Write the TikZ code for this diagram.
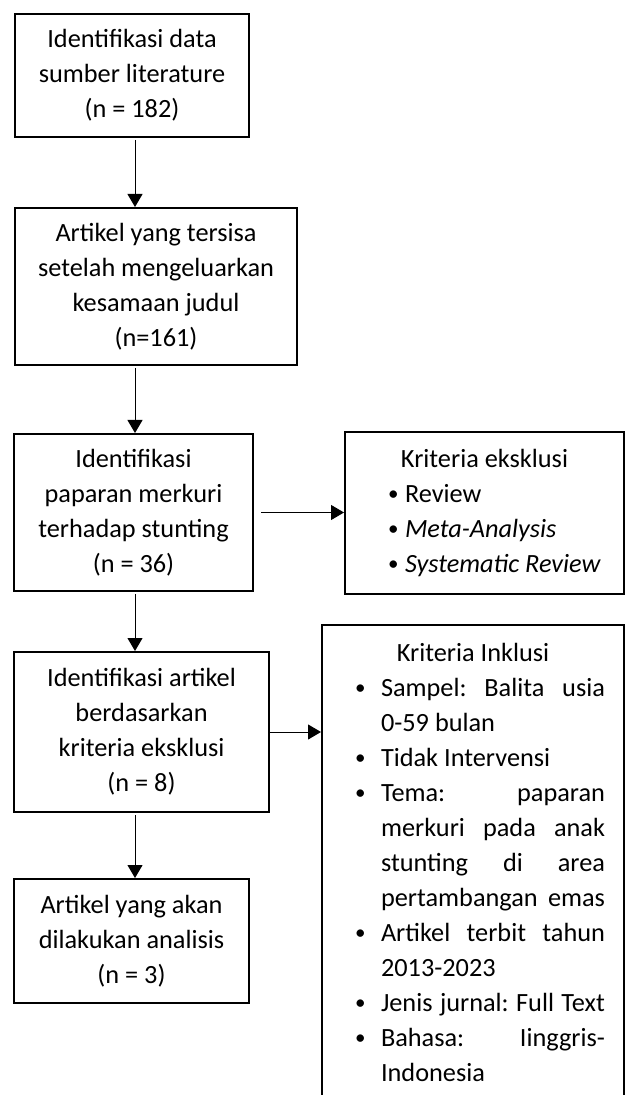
\documentclass[tikz,border=0pt]{standalone}
\usepackage{fontspec}
\setmainfont{Carlito}
\usetikzlibrary{arrows.meta}
\tikzset{
  box/.style={draw, line width=1pt, inner sep=0pt, align=center,
    execute at begin node={\frenchspacing\spaceskip=0pt\xspaceskip=0pt\relax}},
  arr/.style={-{Triangle[width=7.5pt,length=6.5pt]}, line width=0.5pt},
}
\newcommand{\blt}{\raisebox{0.15ex}{\scalebox{0.8}{\textbullet}}}
\newcommand{\ebul}{\hspace*{21.5pt}\makebox[8.5pt][l]{\blt}}
\newcommand{\ibul}{\hspace*{16.5pt}\makebox[13pt][l]{\blt}}
\newcommand{\iind}{\hspace*{29.5pt}}
\begin{document}
\begin{tikzpicture}[x=0.5pt,y=-0.5pt,font=\fontsize{13.15pt}{17.5pt}\selectfont]
\useasboundingbox (0,0) rectangle (625,1095);
\clip (0,0) rectangle (625,1095);
\coordinate (spine) at (135,0);
% left column
\node[box, minimum width=117pt, minimum height=61.5pt] (idn) at (132,75.5)
  {Identifikasi data\\ sumber literature\\ (n = 182)};
\node[box, minimum width=141pt, minimum height=78.5pt] (sisa) at (156,286.5)
  {Artikel yang tersisa\\ setelah mengeluarkan\\ kesamaan judul\\ (n=161)};
\node[box, minimum width=119.5pt, minimum height=78.5pt] (papar) at (133.5,512.5)
  {Identifikasi\\ paparan merkuri\\ terhadap stunting\\ (n = 36)};
\node[box, minimum width=127.5pt, minimum height=80pt] (eks) at (141.5,732)
  {Identifikasi artikel\\ berdasarkan\\ kriteria eksklusi\\ (n = 8)};
\node[box, minimum width=117.5pt, minimum height=62pt] (akhir) at (131.5,941)
  {Artikel yang akan\\ dilakukan analisis\\ (n = 3)};
% right column
\node[box, minimum height=81pt, text width=139.5pt, align=left] (exkl) at (484.5,513)
  {\makebox[\linewidth][c]{Kriteria eksklusi}\\
   \ebul Review\\
   \ebul\textit{Meta-Analysis}\\
   \ebul\textit{Systematic Review}};
\node[box, anchor=north west, text width=151pt, align=left, inner ysep=9pt] (inkl) at (321,624)
  {\makebox[\linewidth][c]{Kriteria Inklusi}\\
   \ibul\makebox[112pt][s]{Sampel: Balita usia}\\
   \iind 0-59 bulan\\
   \ibul Tidak Intervensi\\
   \ibul\makebox[112pt][s]{Tema: paparan}\\
   \iind\makebox[112pt][s]{merkuri pada anak}\\
   \iind\makebox[112pt][s]{stunting di area}\\
   \iind\makebox[112pt][s]{pertambangan emas}\\
   \ibul\makebox[112pt][s]{Artikel terbit tahun}\\
   \iind 2013-2023\\
   \ibul\makebox[112pt][s]{Jenis jurnal: Full Text}\\
   \ibul\makebox[112pt][s]{Bahasa: Iinggris-}\\
   \iind Indonesia};
% arrows
\foreach \a/\b in {idn/sisa,sisa/papar,papar/eks,eks/akhir}
  \draw[arr, shorten <=1pt] (\a.south -| spine) -- (\b.north -| spine);
\draw[arr, shorten <=3.5pt] (papar.east) -- (papar.east -| exkl.west);
\draw[arr] (eks.east) -- (eks.east -| inkl.west);
\end{tikzpicture}
\end{document}
